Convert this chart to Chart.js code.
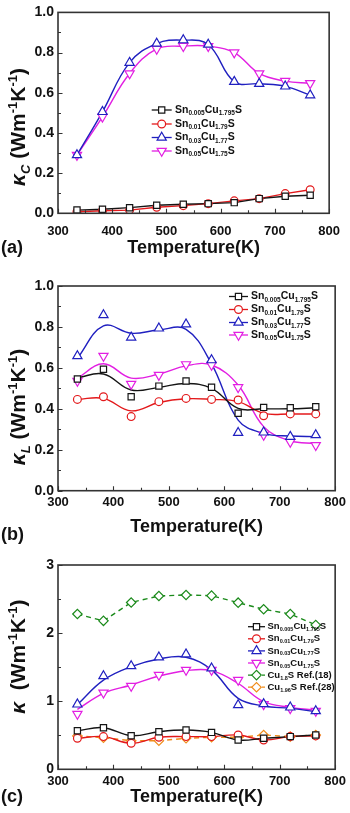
<!DOCTYPE html>
<html>
<head>
<meta charset="utf-8">
<script src="https://cdn.jsdelivr.net/npm/chart.js@4.4.0/dist/chart.umd.min.js"></script>
<style>
  body { margin: 0; background: #fff; width: 350px; height: 813px; overflow: hidden; position: relative; }
  .panel { position: absolute; left: 0; width: 350px; }
</style>
</head>
<body>
<div class="panel" style="top:0;height:275px"><canvas id="chartA"></canvas></div>
<div class="panel" style="top:270px;height:275px"><canvas id="chartB"></canvas></div>
<div class="panel" style="top:540px;height:273px"><canvas id="chartC"></canvas></div>
<script>
// temperatures (K)
const temps = [335, 382, 432, 482, 531, 577, 625, 671, 719, 765];
const xTickVals = [300, 400, 500, 600, 700, 800];
const yTicksAB = [0, 0.2, 0.4, 0.6, 0.8, 1.0];
const yTicksC = [0, 1, 2, 3];

// (a) kappa_C
const aSn005 = [0.016, 0.02, 0.028, 0.04, 0.045, 0.048, 0.053, 0.073, 0.085, 0.09];
const aSn01 = [0.008, 0.013, 0.016, 0.03, 0.038, 0.048, 0.062, 0.073, 0.098, 0.117];
const aSn03 = [0.29, 0.505, 0.75, 0.845, 0.862, 0.84, 0.655, 0.645, 0.632, 0.588];
const aSn05 = [0.29, 0.48, 0.696, 0.818, 0.832, 0.832, 0.80, 0.696, 0.658, 0.647];

// (b) kappa_L, markers and fitted curves
const bSn005 = [0.546, 0.593, 0.459, 0.511, 0.536, 0.505, 0.378, 0.407, 0.405, 0.41];
const bSn01 = [0.446, 0.459, 0.362, 0.435, 0.451, 0.446, 0.443, 0.366, 0.375, 0.375];
const bSn03 = [0.658, 0.858, 0.749, 0.793, 0.813, 0.638, 0.283, 0.285, 0.264, 0.272];
const bSn05 = [0.536, 0.658, 0.521, 0.565, 0.617, 0.614, 0.505, 0.272, 0.238, 0.222];
const bSn005Fit = [0.552, 0.57, 0.492, 0.505, 0.524, 0.5, 0.402, 0.40, 0.40, 0.405];
const bSn01Fit = [0.446, 0.451, 0.39, 0.431, 0.449, 0.446, 0.435, 0.378, 0.375, 0.375];
const bSn03Fit = [0.647, 0.805, 0.769, 0.785, 0.788, 0.62, 0.345, 0.28, 0.267, 0.264];
const bSn05Fit = [0.55, 0.62, 0.55, 0.57, 0.61, 0.614, 0.516, 0.313, 0.244, 0.23];

// (c) kappa total
const cSn005 = [0.567, 0.611, 0.493, 0.552, 0.576, 0.542, 0.43, 0.455, 0.48, 0.504];
const cSn01 = [0.455, 0.48, 0.383, 0.47, 0.48, 0.48, 0.504, 0.43, 0.48, 0.49];
const cSn03 = [0.954, 1.37, 1.517, 1.645, 1.689, 1.483, 0.944, 0.959, 0.91, 0.856];
const cSn05 = [0.812, 1.125, 1.223, 1.385, 1.458, 1.458, 1.311, 0.954, 0.895, 0.856];
const cCu18 = [2.28, 2.18, 2.45, 2.545, 2.56, 2.55, 2.447, 2.35, 2.28, 2.12];
const cCu196 = [0.49, 0.465, 0.42, 0.42, 0.455, 0.47, 0.47, 0.504, 0.48, 0.504];
const cSn03Fit = [0.95, 1.31, 1.507, 1.62, 1.645, 1.46, 1.042, 0.93, 0.895, 0.847];
const cSn05Fit = [0.88, 1.116, 1.238, 1.37, 1.448, 1.448, 1.26, 0.993, 0.91, 0.87];

const FONT = '"Liberation Sans", Arial, sans-serif';
const BLACK = '#151515', RED = '#e3191b', BLUE = '#2020c0', MAG = '#e21fe2', GREEN = '#1b8a1b', ORANGE = '#f08c1a';

const SN005 = [{ t: 'Sn' }, { t: '0.005', s: 1 }, { t: 'Cu' }, { t: '1.795', s: 1 }, { t: 'S' }];
const SN01 = [{ t: 'Sn' }, { t: '0.01', s: 1 }, { t: 'Cu' }, { t: '1.79', s: 1 }, { t: 'S' }];
const SN03 = [{ t: 'Sn' }, { t: '0.03', s: 1 }, { t: 'Cu' }, { t: '1.77', s: 1 }, { t: 'S' }];
const SN05 = [{ t: 'Sn' }, { t: '0.05', s: 1 }, { t: 'Cu' }, { t: '1.75', s: 1 }, { t: 'S' }];
const CU18 = [{ t: 'Cu' }, { t: '1.8', s: 1 }, { t: 'S Ref.(18)' }];
const CU196 = [{ t: 'Cu' }, { t: '1.96', s: 1 }, { t: 'S Ref.(28)' }];

const MARK = {
  sq: { style: 'rect', r: 4.4, rot: 0 },
  ci: { style: 'circle', r: 3.9, rot: 0 },
  up: { style: 'triangle', r: 5.3, rot: 0 },
  dn: { style: 'triangle', r: 5.3, rot: 180 },
  di: { style: 'rectRot', r: 4.7, rot: 0 }
};

function pts(vals) {
  return temps.map((t, i) => ({ x: t, y: vals[i] }));
}

function series(vals, color, mark, o) {
  o = o || {};
  const m = MARK[mark];
  return [
    {
      data: pts(o.fit || vals), borderColor: color, borderWidth: 1.4, pointRadius: 0,
      tension: o.tension || 0, borderDash: o.dash || [], order: 1
    },
    {
      data: pts(vals), showLine: false, pointStyle: m.style, pointRotation: m.rot, pointRadius: m.r,
      pointBorderColor: color, pointBackgroundColor: '#fff', pointBorderWidth: 1.2, order: 0
    }
  ];
}

function drawMarker(ctx, m, x, y) {
  const r = m.r;
  ctx.beginPath();
  if (m.style === 'circle') {
    ctx.arc(x, y, r, 0, Math.PI * 2);
  } else if (m.style === 'rect') {
    const s = r * Math.SQRT1_2;
    ctx.rect(x - s, y - s, 2 * s, 2 * s);
  } else if (m.style === 'rectRot') {
    ctx.moveTo(x - r, y); ctx.lineTo(x, y - r); ctx.lineTo(x + r, y); ctx.lineTo(x, y + r); ctx.closePath();
  } else {
    let rad = m.rot * Math.PI / 180;
    ctx.moveTo(x + Math.sin(rad) * r, y - Math.cos(rad) * r);
    for (let k = 0; k < 2; k++) {
      rad += Math.PI * 2 / 3;
      ctx.lineTo(x + Math.sin(rad) * r, y - Math.cos(rad) * r);
    }
    ctx.closePath();
  }
  ctx.fill();
  ctx.stroke();
}

// text made of pieces (sub / superscripts)
function richWidth(ctx, parts) {
  let w = 0;
  parts.forEach(p => { ctx.font = p.f; p.w = ctx.measureText(p.t).width; w += p.w; });
  return w;
}
function drawRich(ctx, parts, x, y) {
  let cx = x;
  parts.forEach(p => { ctx.font = p.f; ctx.fillText(p.t, cx, y + (p.dy || 0)); cx += p.w; });
}

const decor = {
  id: 'decor',
  afterDraw(chart, args, o) {
    const { ctx, chartArea: a, scales: { x, y } } = chart;
    ctx.save();
    ctx.strokeStyle = '#333';
    ctx.lineWidth = 1.1;
    ctx.beginPath();
    for (let v = x.min; v <= x.max + 1e-6; v += o.xMinor) {
      const px = Math.round(x.getPixelForValue(v)) + 0.5;
      const len = xTickVals.includes(v) ? 4.5 : 3;
      ctx.moveTo(px, a.bottom); ctx.lineTo(px, a.bottom - len);
    }
    for (let k = 0; y.min + k * o.yMinor <= y.max + 1e-6; k++) {
      const v = y.min + k * o.yMinor;
      const py = Math.round(y.getPixelForValue(v)) + 0.5;
      const len = k % 2 === 0 ? 4.5 : 3;
      ctx.moveTo(a.left, py); ctx.lineTo(a.left + len, py);
    }
    ctx.stroke();
    ctx.lineWidth = 1.6;
    ctx.strokeRect(a.left, a.top, a.width, a.height);

    ctx.fillStyle = '#111';
    ctx.textBaseline = 'middle';
    ctx.font = 'bold 18px ' + FONT;
    ctx.textAlign = 'center';
    ctx.fillText('Temperature(K)', (a.left + a.right) / 2, o.xTitleY);
    ctx.textAlign = 'left';
    ctx.fillText(o.panel, 1, o.panelY);

    // y title, rotated
    ctx.textBaseline = 'alphabetic';
    const big = 'bold 21px ' + FONT, it = 'italic bold 21px ' + FONT;
    const small = 'bold 13px ' + FONT, itSmall = 'italic bold 13px ' + FONT;
    const yParts = [{ t: 'κ', f: it }];
    if (o.kSub) yParts.push({ t: o.kSub, f: itSmall, dy: 5 });
    yParts.push({ t: o.kGap + '(Wm', f: big }, { t: '-1', f: small, dy: -8 },
      { t: 'K', f: big }, { t: '-1', f: small, dy: -8 }, { t: ')', f: big });
    const w = richWidth(ctx, yParts);
    ctx.translate(o.yTitleX, o.yTitleY);
    ctx.rotate(-Math.PI / 2);
    drawRich(ctx, yParts, -w / 2, 0);
    ctx.setTransform(1, 0, 0, 1, 0, 0);
    ctx.restore();

    // legend
    const L = o.legend;
    ctx.save();
    ctx.textBaseline = 'middle';
    L.items.forEach((it2, i) => {
      const ly = L.ys[i];
      ctx.strokeStyle = it2.color;
      ctx.lineWidth = 1.3;
      ctx.setLineDash(it2.dash || []);
      ctx.beginPath(); ctx.moveTo(L.x0, ly); ctx.lineTo(L.x1, ly); ctx.stroke();
      ctx.setLineDash([]);
      ctx.fillStyle = '#fff';
      ctx.lineWidth = 1.2;
      drawMarker(ctx, MARK[it2.mark], (L.x0 + L.x1) / 2, ly);
      ctx.fillStyle = '#111';
      const parts = it2.text.map(p => ({
        t: p.t, f: 'bold ' + (p.s ? L.sub : L.size) + 'px ' + FONT, dy: p.s ? L.size * 0.32 : 0
      }));
      richWidth(ctx, parts);
      drawRich(ctx, parts, L.tx, ly);
    });
    ctx.restore();
  }
};

function makeChart(id, cfg) {
  const tickFont = { family: FONT, size: 13, weight: 'bold' };
  return new Chart(document.getElementById(id), {
    type: 'line',
    data: { datasets: cfg.datasets },
    options: {
      animation: false,
      responsive: true,
      maintainAspectRatio: false,
      layout: { padding: { left: 0, right: 12.3, top: cfg.top, bottom: 0 } },
      plugins: {
        legend: { display: false },
        tooltip: { enabled: false },
        decor: cfg.decor
      },
      scales: {
        x: {
          type: 'linear', min: 300, max: 800,
          afterFit: s => { s.height = cfg.xH; },
          afterBuildTicks: s => { s.ticks = xTickVals.map(v => ({ value: v })); },
          grid: { display: false, drawTicks: false },
          border: { display: false },
          ticks: { padding: cfg.xPad, font: tickFont, color: '#111', maxRotation: 0, autoSkip: false }
        },
        y: {
          min: cfg.yTicks[0], max: cfg.yTicks[cfg.yTicks.length - 1],
          afterFit: s => { s.width = 58; },
          afterBuildTicks: s => { s.ticks = cfg.yTicks.map(v => ({ value: v })); },
          grid: { display: false, drawTicks: false },
          border: { display: false },
          ticks: {
            padding: 4, font: { family: FONT, size: 14, weight: 'bold' }, color: '#111',
            callback: v => cfg.fmt(v)
          }
        }
      }
    },
    plugins: [decor]
  });
}

makeChart('chartA', {
  top: 8.3, xH: 275 - 213.3, xPad: 10, yTicks: yTicksAB, fmt: v => v.toFixed(1),
  datasets: [].concat(
    series(aSn005, BLACK, 'sq'),
    series(aSn01, RED, 'ci'),
    series(aSn03, BLUE, 'up', { tension: 0.4 }),
    series(aSn05, MAG, 'dn', { tension: 0.4 })
  ),
  decor: {
    xMinor: 50, yMinor: 0.1, xTitleY: 248, panel: '(a)', panelY: 248,
    yTitleX: 25, yTitleY: 127, kSub: 'C', kGap: ' ',
    legend: {
      x0: 151.7, x1: 171.7, tx: 175, size: 10.5, sub: 6.5, ys: [110, 124, 137.5, 151],
      items: [
        { text: SN005, color: BLACK, mark: 'sq' },
        { text: SN01, color: RED, mark: 'ci' },
        { text: SN03, color: BLUE, mark: 'up' },
        { text: SN05, color: MAG, mark: 'dn' }
      ]
    }
  }
});

makeChart('chartB', {
  top: 16, xH: 275 - 220.7, xPad: 4, yTicks: yTicksAB, fmt: v => v.toFixed(1),
  datasets: [].concat(
    series(bSn005, BLACK, 'sq', { fit: bSn005Fit, tension: 0.4 }),
    series(bSn01, RED, 'ci', { fit: bSn01Fit, tension: 0.4 }),
    series(bSn03, BLUE, 'up', { fit: bSn03Fit, tension: 0.4 }),
    series(bSn05, MAG, 'dn', { fit: bSn05Fit, tension: 0.4 })
  ),
  decor: {
    xMinor: 50, yMinor: 0.1, xTitleY: 257, panel: '(b)', panelY: 265,
    yTitleX: 25, yTitleY: 137, kSub: 'L', kGap: ' ',
    legend: {
      x0: 229, x1: 248, tx: 251, size: 10.5, sub: 6.5, ys: [26.5, 39.5, 52.5, 65],
      items: [
        { text: SN005, color: BLACK, mark: 'sq' },
        { text: SN01, color: RED, mark: 'ci' },
        { text: SN03, color: BLUE, mark: 'up' },
        { text: SN05, color: MAG, mark: 'dn' }
      ]
    }
  }
});

makeChart('chartC', {
  top: 25, xH: 273 - 229.3, xPad: 4, yTicks: yTicksC, fmt: v => String(v),
  datasets: [].concat(
    series(cSn005, BLACK, 'sq', { tension: 0.4 }),
    series(cSn01, RED, 'ci', { tension: 0.4 }),
    series(cSn03, BLUE, 'up', { fit: cSn03Fit, tension: 0.4 }),
    series(cSn05, MAG, 'dn', { fit: cSn05Fit, tension: 0.4 }),
    series(cCu18, GREEN, 'di', { dash: [5, 4] }),
    series(cCu196, ORANGE, 'di', { dash: [5, 4] })
  ),
  decor: {
    xMinor: 50, yMinor: 0.5, xTitleY: 256.7, panel: '(c)', panelY: 256.7,
    yTitleX: 25, yTitleY: 116.7, kSub: '', kGap: '  ',
    legend: {
      x0: 248, x1: 265, tx: 267.5, size: 9.5, sub: 5.5, ys: [86.7, 98.8, 110.9, 123, 135.1, 147.2],
      items: [
        { text: SN005, color: BLACK, mark: 'sq' },
        { text: SN01, color: RED, mark: 'ci' },
        { text: SN03, color: BLUE, mark: 'up' },
        { text: SN05, color: MAG, mark: 'dn' },
        { text: CU18, color: GREEN, mark: 'di', dash: [4, 3] },
        { text: CU196, color: ORANGE, mark: 'di', dash: [4, 3] }
      ]
    }
  }
});
</script>
</body>
</html>
